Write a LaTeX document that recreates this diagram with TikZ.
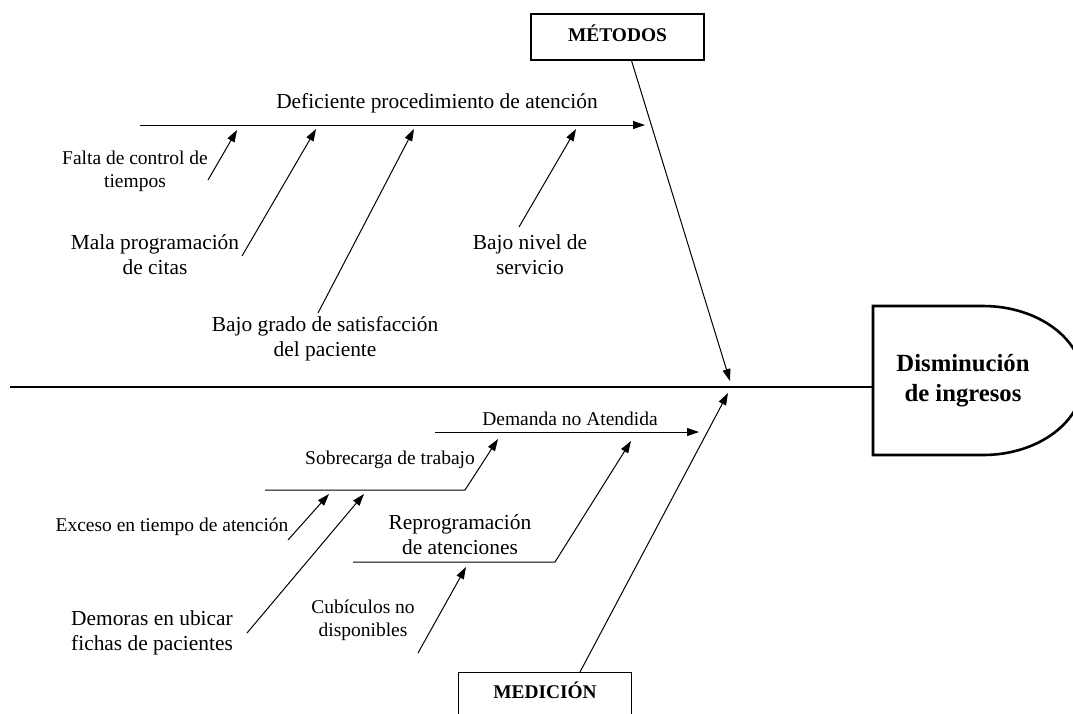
\documentclass[tikz,border=0pt]{standalone}
\usepackage{fontspec}
\setmainfont{Liberation Serif}
\usetikzlibrary{arrows.meta}

\tikzset{
  big/.style={font=\fontsize{21.4}{25}\selectfont, align=center, inner sep=0pt},
  small/.style={font=\fontsize{19.5}{23}\selectfont, align=center, inner sep=0pt},
  cattext/.style={font=\fontsize{19.4}{23}\selectfont\bfseries, inner sep=0pt},
  catbox/.style={draw, line width=1.2pt, minimum width=173pt, minimum height=46pt, inner sep=0pt},
  bone/.style={line width=1pt, -{Triangle[length=12pt,width=8pt]}},
}

\begin{document}
\begin{tikzpicture}[x=1pt, y=-1pt]
  \useasboundingbox (0,0) rectangle (1073,713);
  \clip (0,0) rectangle (1073,713);

  % effect head
  \node[font=\fontsize{24.7}{30}\selectfont\bfseries, align=center, inner sep=0pt] (eff) at (963,381) {Disminución\\de ingresos};
  \coordinate (hl) at (873,387);
  \draw[line width=2.6pt] (983,306) -- (873,306) -- (873,455) -- (983,455)
    arc[start angle=90, end angle=-90, x radius=100, y radius=74.5];

  % spine
  \coordinate (sp0) at (10,387);
  \draw[line width=2pt] (sp0) -- (hl);

  % category boxes
  \node[catbox] (met) at (617.5,37) {};
  \node[cattext] (mett) at (617.5,33) {MÉTODOS};
  \node[catbox, anchor=north, minimum height=52pt] (med) at (545,672) {};
  \node[cattext] (medt) at (545,690) {MEDICIÓN};

  % main bones
  \coordinate (mtip) at (730,381);
  \coordinate (dtip) at (728,393);
  \draw[bone] ([xshift=14pt]met.south) -- (mtip);
  \draw[bone] ([xshift=35pt]med.north) -- (dtip);

  % Métodos branch
  \coordinate (d0) at (140,125);
  \coordinate (d1) at (645,125);
  \draw[bone] (d0) -- (d1);
  \node[big] (def) at (437,103) {Deficiente procedimiento de atención};

  \node[small] (falta) at (135,171) {Falta de control de\\tiempos};
  \coordinate (fa0) at (208,180); \coordinate (fa1) at (237,130);
  \draw[bone] (fa0) -- (fa1);

  \node[big] (mala) at (155,255) {Mala programación\\de citas};
  \coordinate (ma0) at (242,256); \coordinate (ma1) at (316,129);
  \draw[bone] (ma0) -- (ma1);

  \node[big] (grado) at (325,339) {Bajo grado de satisfacción\\del paciente};
  \coordinate (gr0) at (318,313); \coordinate (gr1) at (414,129);
  \draw[bone] (gr0) -- (gr1);

  \node[big] (nivel) at (530,255) {Bajo nivel de\\servicio};
  \coordinate (ni0) at (519,227); \coordinate (ni1) at (576,129);
  \draw[bone] (ni0) -- (ni1);

  % Medición branch
  \coordinate (dn0) at (435,432);
  \coordinate (dn1) at (699,432);
  \draw[bone] (dn0) -- (dn1);
  \node[small] (dem) at (570,419) {Demanda no Atendida};

  \coordinate (so0) at (265,490); \coordinate (so1) at (465,490); \coordinate (so2) at (498,439);
  \draw[bone] (so0) -- (so1) -- (so2);
  \node[small] (sob) at (390,460) {Sobrecarga de trabajo};

  \node[small] (exc) at (172,527) {Exceso en tiempo de atención};
  \coordinate (ex0) at (288,540); \coordinate (ex1) at (329,494);
  \draw[bone] (ex0) -- (ex1);

  \node[big] (demo) at (152,633) {Demoras en ubicar\\fichas de pacientes};
  \coordinate (de0) at (247,633); \coordinate (de1) at (364,494);
  \draw[bone] (de0) -- (de1);

  \coordinate (re0) at (353,562); \coordinate (re1) at (555,562); \coordinate (re2) at (631,441);
  \draw[bone] (re0) -- (re1) -- (re2);
  \node[big] (rep) at (460,535) {Reprogramación\\de atenciones};

  \node[small] (cub) at (363,620) {Cubículos no\\disponibles};
  \coordinate (cu0) at (418,653); \coordinate (cu1) at (466,567);
  \draw[bone] (cu0) -- (cu1);
\end{tikzpicture}
\end{document}
